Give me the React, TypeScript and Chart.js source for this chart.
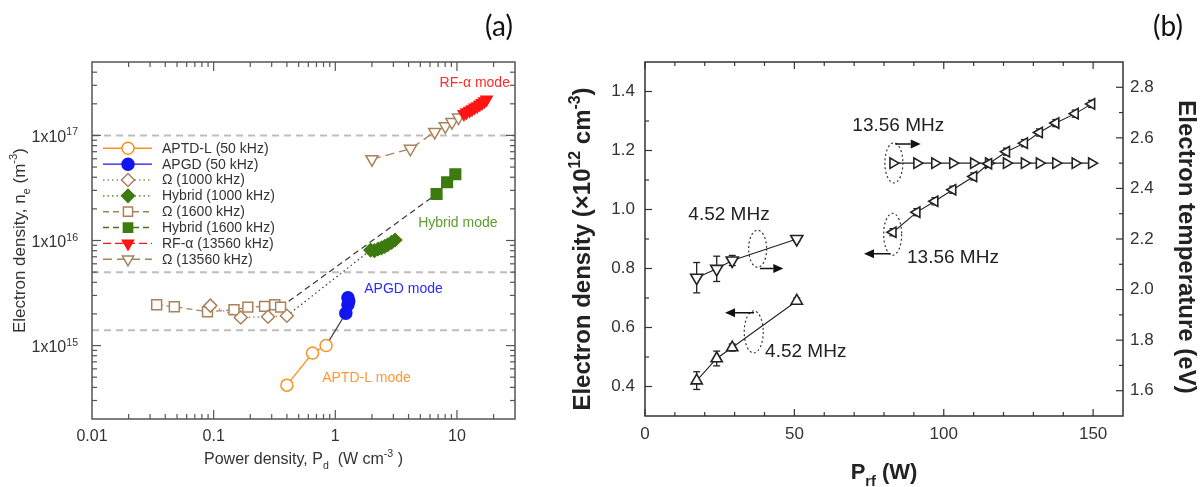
import React, { useEffect, useRef } from "react";
import { Chart, registerables } from "chart.js";
import { drawPoint } from "chart.js/helpers";

Chart.register(...registerables);

// ================= Panel (a) data =================
const aptdX = [0.4, 0.65, 0.84];
const aptdY = [4.2e14, 8.5e14, 1.0e15];
const apgdX = [1.22, 1.27, 1.29, 1.27];
const apgdY = [2.03e15, 2.45e15, 2.65e15, 2.85e15];
const omega1000X = [0.094, 0.167, 0.28, 0.4];
const omega1000Y = [2.4e15, 1.85e15, 1.88e15, 1.92e15];
const hybrid1000X = [1.95, 2.1, 2.25, 2.4, 2.55, 2.7, 2.9, 3.1];
const hybrid1000Y = [8.1e15, 8.0e15, 8.3e15, 8.5e15, 8.8e15, 9.1e15, 9.6e15, 1.01e16];
const omega1600X = [0.034, 0.0475, 0.089, 0.147, 0.191, 0.262, 0.318, 0.355];
const omega1600Y = [2.45e15, 2.34e15, 2.1e15, 2.19e15, 2.32e15, 2.36e15, 2.45e15, 2.32e15];
const hybrid1600X = [6.8, 8.3, 9.7];
const hybrid1600Y = [2.77e16, 3.58e16, 4.27e16];
const rfAlphaX = [11.4, 12.0, 12.7, 13.3, 14.0, 14.7, 15.4, 16.1, 16.8, 17.5];
const rfAlphaY = [1.6e17, 1.66e17, 1.72e17, 1.78e17, 1.84e17, 1.9e17, 1.97e17, 2.04e17, 2.12e17, 2.2e17];
const omega13560X = [2.0, 4.14, 6.56, 8.03, 9.1, 10.3];
const omega13560Y = [5.94e16, 7.45e16, 1.08e17, 1.22e17, 1.34e17, 1.48e17];

const refLevelsA = [1e17, 5e15, 1.4e15];
const xTicksA = [0.01, 0.1, 1, 10];
const xTickLabelsA = ["0.01", "0.1", "1", "10"];
const yTicksA = [1e15, 1e16, 1e17];
const yTickExpA = ["15", "16", "17"];

// ================= Panel (b) data =================
const x452 = [17.3, 24.0, 29.2, 50.8];
const ne452 = [0.42, 0.495, 0.532, 0.69];
const ne452Err = [0.03, 0.025, 0.012, 0.01];
const te452 = [2.047, 2.082, 2.115, 2.2];
const te452Err = [0.06, 0.05, 0.02, 0.01];
const x1356 = [83, 91, 97, 103, 110, 115, 121, 127, 132, 137.5, 144, 149.5];
const ne1356 = [0.923, 0.991, 1.028, 1.067, 1.112, 1.155, 1.196, 1.225, 1.261, 1.293, 1.325, 1.358];
const ne1356Err = [0.012, 0.012, 0.012, 0.012, 0.012, 0.012, 0.012, 0.012, 0.012, 0.012, 0.012, 0.012];
const te1356 = [2.5, 2.5, 2.5, 2.5, 2.5, 2.5, 2.5, 2.5, 2.5, 2.5, 2.5, 2.5];

const xMajorB = [0, 50, 100, 150];
const xMinorB = [10, 20, 30, 40, 60, 70, 80, 90, 110, 120, 130, 140];
const yMajorB = [0.4, 0.6, 0.8, 1.0, 1.2, 1.4];
const yMinorB = [0.5, 0.7, 0.9, 1.1, 1.3];
const y1MajorB = [1.6, 1.8, 2.0, 2.2, 2.4, 2.6, 2.8];
const y1MinorB = [1.7, 1.9, 2.1, 2.3, 2.5, 2.7];

// ================= styles / annotations =================
const FONT = "'Liberation Sans', Arial, Helvetica, sans-serif";
const ORANGE = "#f7931e";
const BLUE = "#1414f0";
const TAN = "#a8825a";
const GREEN = "#3d7a0f";
const RED = "#ff1414";
const INK = "#222";

const SERIES_A = [
  { label: "APTD-L (50 kHz)", xs: aptdX, ys: aptdY, color: ORANGE, fill: "#fff", point: "circle", radius: 6, rot: 0, dash: [] as number[] },
  { label: "APGD (50 kHz)", xs: apgdX, ys: apgdY, color: BLUE, fill: BLUE, point: "circle", radius: 6, rot: 0, dash: [] as number[] },
  { label: "Ω (1000 kHz)", xs: omega1000X, ys: omega1000Y, color: TAN, fill: "#fff", point: "rectRot", radius: 6.5, rot: 0, dash: [1.5, 3] },
  { label: "Hybrid (1000 kHz)", xs: hybrid1000X, ys: hybrid1000Y, color: GREEN, fill: GREEN, point: "rectRot", radius: 6.5, rot: 0, dash: [1.5, 3] },
  { label: "Ω (1600 kHz)", xs: omega1600X, ys: omega1600Y, color: TAN, fill: "#fff", point: "rect", radius: 7, rot: 0, dash: [6, 4] },
  { label: "Hybrid (1600 kHz)", xs: hybrid1600X, ys: hybrid1600Y, color: GREEN, fill: GREEN, point: "rect", radius: 7.5, rot: 0, dash: [6, 4] },
  { label: "RF-α (13560 kHz)", xs: rfAlphaX, ys: rfAlphaY, color: RED, fill: RED, point: "triangle", radius: 6.5, rot: 180, dash: [8, 4] },
  { label: "Ω (13560 kHz)", xs: omega13560X, ys: omega13560Y, color: TAN, fill: "#fff", point: "triangle", radius: 7, rot: 180, dash: [9, 5] },
];

const MODE_LABELS_A = [
  { t: "RF-α mode", x: 7.2, y: 3.16e17, color: "#ff2a2a" },
  { t: "Hybrid mode", x: 4.8, y: 1.45e16, color: "#5b9e2d" },
  { t: "APGD mode", x: 1.73, y: 3.43e15, color: "#2b2bff" },
  { t: "APTD-L mode", x: 0.78, y: 4.9e14, color: "#ff9933" },
];

const ELLIPSES_B = [
  { x: 37.7, y: 0.867, rx: 9, ry: 18.5 },
  { x: 36.4, y: 0.585, rx: 9.5, ry: 21 },
  { x: 83.3, y: 1.158, rx: 9, ry: 20 },
  { x: 82.9, y: 0.916, rx: 9, ry: 21 },
];
const ARROWS_B = [
  { x1: 38.5, x2: 46.3, y: 0.8 },
  { x1: 36.5, x2: 26.8, y: 0.65 },
  { x1: 83.8, x2: 92.3, y: 1.222 },
  { x1: 82.2, x2: 73.3, y: 0.85 },
];
const LABELS_B = [
  { t: "4.52 MHz", x: 14.5, y: 0.981 },
  { t: "4.52 MHz", x: 40.2, y: 0.519 },
  { t: "13.56 MHz", x: 69.4, y: 1.283 },
  { t: "13.56 MHz", x: 87.7, y: 0.838 },
];

type Seg = { t: string; k?: "sub" | "sup" };

function drawRich(ctx: any, segs: Seg[], x: number, y: number, o: any) {
  const weight = o.weight || "normal";
  const small = o.size * 0.66;
  ctx.save();
  ctx.translate(x, y);
  if (o.rot) ctx.rotate(o.rot);
  ctx.fillStyle = o.color || INK;
  ctx.textBaseline = "alphabetic";
  ctx.textAlign = "left";
  const fontOf = (s: Seg) => `${weight} ${s.k ? small : o.size}px ${FONT}`;
  let total = 0;
  const widths = segs.map((s) => {
    ctx.font = fontOf(s);
    const w = ctx.measureText(s.t).width;
    total += w;
    return w;
  });
  let cx = o.align === "right" ? -total : o.align === "center" ? -total / 2 : 0;
  const base = o.size * 0.36;
  segs.forEach((s, i) => {
    ctx.font = fontOf(s);
    const dy = s.k === "sup" ? -o.size * 0.42 : s.k === "sub" ? o.size * 0.3 : 0;
    ctx.fillText(s.t, cx, base + dy);
    cx += widths[i];
  });
  ctx.restore();
}

function seg(ctx: any, x1: number, y1: number, x2: number, y2: number) {
  ctx.beginPath();
  ctx.moveTo(x1, y1);
  ctx.lineTo(x2, y2);
  ctx.stroke();
}

function drawArrow(ctx: any, x1: number, y1: number, x2: number, y2: number) {
  const ang = Math.atan2(y2 - y1, x2 - x1);
  const hl = 10, hw = 4.5;
  const c = Math.cos(ang), s = Math.sin(ang);
  seg(ctx, x1, y1, x2 - c * hl, y2 - s * hl);
  ctx.beginPath();
  ctx.moveTo(x2, y2);
  ctx.lineTo(x2 - c * hl - s * hw, y2 - s * hl + c * hw);
  ctx.lineTo(x2 - c * hl + s * hw, y2 - s * hl - c * hw);
  ctx.closePath();
  ctx.fill();
}

function PanelA() {
  const ref = useRef<HTMLCanvasElement>(null);
  useEffect(() => {
    const mk = (xs: number[], ys: number[]) => xs.map((x, i) => ({ x, y: ys[i] }));
    const conn = (xa: number[], ya: number[], xb: number[], yb: number[]) => [
      { x: xa[xa.length - 1], y: ya[ya.length - 1] },
      { x: xb[0], y: yb[0] },
    ];
    const datasets: any[] = SERIES_A.map((s) => ({
      label: s.label,
      data: mk(s.xs, s.ys),
      showLine: true,
      borderColor: s.color,
      borderWidth: 1.3,
      borderDash: s.dash,
      pointStyle: s.point,
      pointRadius: s.radius,
      pointRotation: s.rot,
      pointBackgroundColor: s.fill,
      pointBorderColor: s.color,
      pointBorderWidth: 1.5,
    }));
    const connStyle = { showLine: true, borderColor: "#3a3a3a", borderWidth: 1.2, pointRadius: 0 };
    datasets.push({ ...connStyle, data: conn(aptdX, aptdY, apgdX, apgdY), borderDash: [] });
    datasets.push({ ...connStyle, data: conn(omega1000X, omega1000Y, hybrid1000X, hybrid1000Y), borderDash: [1.5, 3] });
    datasets.push({ ...connStyle, data: conn(omega1600X, omega1600Y, hybrid1600X, hybrid1600Y), borderDash: [6, 4] });

    const decor = {
      id: "decorA",
      beforeDatasetsDraw(chart: any) {
        const { ctx, chartArea: a, scales } = chart;
        ctx.save();
        ctx.strokeStyle = "#bdbdbd";
        ctx.lineWidth = 2;
        ctx.setLineDash([7, 5]);
        refLevelsA.forEach((v) => {
          const py = scales.y.getPixelForValue(v);
          seg(ctx, a.left, py, a.right, py);
        });
        ctx.restore();
      },
      afterDraw(chart: any) {
        const { ctx, chartArea: a, scales } = chart;
        const xs = scales.x, ys = scales.y;
        ctx.save();
        ctx.setLineDash([]);
        ctx.strokeStyle = "#555";
        ctx.lineWidth = 1.5;
        ctx.strokeRect(a.left, a.top, a.right - a.left, a.bottom - a.top);
        ctx.lineWidth = 1.2;
        for (let d = -2; d <= 1; d++) {
          for (let m = 1; m <= 9; m++) {
            const v = m * Math.pow(10, d);
            if (v <= xs.min * 1.001 || v >= xs.max * 0.999) continue;
            const p = xs.getPixelForValue(v);
            const L = m === 1 ? 9 : 5;
            seg(ctx, p, a.bottom, p, a.bottom - L);
            seg(ctx, p, a.top, p, a.top + L);
          }
        }
        for (let d = 14; d <= 17; d++) {
          for (let m = 1; m <= 9; m++) {
            const v = m * Math.pow(10, d);
            if (v <= ys.min * 1.001 || v >= ys.max * 0.999) continue;
            const p = ys.getPixelForValue(v);
            const L = m === 1 ? 9 : 5;
            seg(ctx, a.left, p, a.left + L, p);
            seg(ctx, a.right, p, a.right - L, p);
          }
        }
        // tick labels
        ctx.fillStyle = "#333";
        ctx.font = `16px ${FONT}`;
        ctx.textAlign = "center";
        ctx.textBaseline = "middle";
        xTicksA.forEach((v, i) => {
          ctx.fillText(xTickLabelsA[i], xs.getPixelForValue(v), a.bottom + 18);
        });
        yTicksA.forEach((v, i) => {
          drawRich(ctx, [{ t: "1x10" }, { t: yTickExpA[i], k: "sup" }], a.left - 14, ys.getPixelForValue(v) + 1, {
            size: 16, align: "right", color: "#333",
          });
        });
        // axis titles
        drawRich(ctx, [{ t: "Power density, P" }, { t: "d", k: "sub" }, { t: "  (W cm" }, { t: "-3", k: "sup" }, { t: " )" }],
          (a.left + a.right) / 2, a.bottom + 39, { size: 16, align: "center", color: "#333" });
        drawRich(ctx, [{ t: "Electron density, n" }, { t: "e", k: "sub" }, { t: " (m" }, { t: "-3", k: "sup" }, { t: ")" }],
          18.5, (a.top + a.bottom) / 2, { size: 17, align: "center", color: "#333", rot: -Math.PI / 2 });
        // mode labels
        ctx.font = `14px ${FONT}`;
        ctx.textAlign = "left";
        ctx.textBaseline = "middle";
        MODE_LABELS_A.forEach((m) => {
          ctx.fillStyle = m.color;
          ctx.fillText(m.t, xs.getPixelForValue(m.x), ys.getPixelForValue(m.y));
        });
        // legend
        SERIES_A.forEach((s, i) => {
          const yy = 148.3 + i * 15.85;
          ctx.strokeStyle = s.color;
          ctx.lineWidth = 1.4;
          ctx.setLineDash(s.dash);
          seg(ctx, a.left + 11, yy, a.left + 60, yy);
          ctx.setLineDash([]);
          ctx.fillStyle = s.fill;
          ctx.lineWidth = 1.5;
          drawPoint(ctx, { pointStyle: s.point, rotation: s.rot, radius: Math.min(s.radius, 6.5), borderWidth: 1.5 } as any, a.left + 36, yy);
          ctx.fillStyle = "#333";
          ctx.font = `14px ${FONT}`;
          ctx.textAlign = "left";
          ctx.textBaseline = "middle";
          ctx.fillText(s.label, a.left + 70, yy + 0.5);
        });
        // panel tag
        ctx.fillStyle = "#111";
        ctx.font = `28px Lato, 'Open Sans', sans-serif`;
        ctx.textAlign = "center";
        ctx.textBaseline = "middle";
        ctx.fillText("(a)", 499, 27);
        ctx.restore();
      },
    };

    const chart = new Chart(ref.current as HTMLCanvasElement, {
      type: "scatter",
      data: { datasets },
      options: {
        responsive: false,
        animation: false,
        devicePixelRatio: 1,
        events: [],
        layout: { padding: { left: 0, top: 62, right: 45, bottom: 0 } },
        plugins: { legend: { display: false }, tooltip: { enabled: false }, title: { display: false } },
        scales: {
          x: {
            type: "logarithmic", min: 0.01, max: 30,
            ticks: { display: false }, grid: { display: false, drawTicks: false }, border: { display: false },
            afterFit: (s: any) => { s.height = 68; },
          },
          y: {
            type: "logarithmic", min: 2e14, max: 5e17,
            ticks: { display: false }, grid: { display: false, drawTicks: false }, border: { display: false },
            afterFit: (s: any) => { s.width = 92; },
          },
        },
      } as any,
      plugins: [decor],
    });
    return () => chart.destroy();
  }, []);
  return <canvas ref={ref} width={560} height={487} style={{ position: "absolute", left: 0, top: 0 }} />;
}

function PanelB() {
  const ref = useRef<HTMLCanvasElement>(null);
  useEffect(() => {
    const mk = (xs: number[], ys: number[]) => xs.map((x, i) => ({ x, y: ys[i] }));
    const base = {
      showLine: true, borderColor: INK, borderWidth: 1.1, pointBackgroundColor: "#fff",
      pointBorderColor: INK, pointBorderWidth: 1.6,
    };
    const datasets: any[] = [
      { ...base, data: mk(x452, ne452), yAxisID: "y", pointStyle: "triangle", pointRotation: 0, pointRadius: 6.5 },
      { ...base, data: mk(x452, te452), yAxisID: "y1", pointStyle: "triangle", pointRotation: 180, pointRadius: 7 },
      { ...base, data: mk(x1356, ne1356), yAxisID: "y", pointStyle: "triangle", pointRotation: 270, pointRadius: 6 },
      { ...base, data: mk(x1356, te1356), yAxisID: "y1", pointStyle: "triangle", pointRotation: 90, pointRadius: 6 },
    ];
    const errSets = [
      { xs: x452, ys: ne452, es: ne452Err, axis: "y" },
      { xs: x452, ys: te452, es: te452Err, axis: "y1" },
      { xs: x1356, ys: ne1356, es: ne1356Err, axis: "y" },
    ];
    const decor = {
      id: "decorB",
      beforeDatasetsDraw(chart: any) {
        const { ctx, scales } = chart;
        ctx.save();
        ctx.strokeStyle = INK;
        ctx.lineWidth = 1.3;
        errSets.forEach((e) => {
          const sy = scales[e.axis];
          e.xs.forEach((x, i) => {
            const px = scales.x.getPixelForValue(x);
            const p1 = sy.getPixelForValue(e.ys[i] + e.es[i]);
            const p2 = sy.getPixelForValue(e.ys[i] - e.es[i]);
            seg(ctx, px, p1, px, p2);
            seg(ctx, px - 3.5, p1, px + 3.5, p1);
            seg(ctx, px - 3.5, p2, px + 3.5, p2);
          });
        });
        ctx.restore();
      },
      afterDraw(chart: any) {
        const { ctx, chartArea: a, scales } = chart;
        const xs = scales.x, ys = scales.y, y1 = scales.y1;
        ctx.save();
        ctx.setLineDash([]);
        ctx.strokeStyle = "#333";
        ctx.lineWidth = 1.5;
        ctx.strokeRect(a.left, a.top, a.right - a.left, a.bottom - a.top);
        ctx.lineWidth = 1.2;
        const xt = (v: number, L: number) => {
          const p = xs.getPixelForValue(v);
          seg(ctx, p, a.bottom, p, a.bottom - L);
          seg(ctx, p, a.top, p, a.top + L);
        };
        xMajorB.forEach((v) => xt(v, 7));
        xMinorB.forEach((v) => xt(v, 4));
        yMajorB.forEach((v) => { const p = ys.getPixelForValue(v); seg(ctx, a.left, p, a.left + 7, p); });
        yMinorB.forEach((v) => { const p = ys.getPixelForValue(v); seg(ctx, a.left, p, a.left + 4, p); });
        y1MajorB.forEach((v) => { const p = y1.getPixelForValue(v); seg(ctx, a.right, p, a.right - 7, p); });
        y1MinorB.forEach((v) => { const p = y1.getPixelForValue(v); seg(ctx, a.right, p, a.right - 4, p); });
        // tick labels
        ctx.fillStyle = "#333";
        ctx.font = `17px ${FONT}`;
        ctx.textBaseline = "middle";
        ctx.textAlign = "center";
        xMajorB.forEach((v) => ctx.fillText(String(v), xs.getPixelForValue(v), a.bottom + 18));
        ctx.textAlign = "right";
        yMajorB.forEach((v) => ctx.fillText(v.toFixed(1), a.left - 10, ys.getPixelForValue(v)));
        ctx.textAlign = "left";
        y1MajorB.forEach((v) => ctx.fillText(v.toFixed(1), a.right + 7, y1.getPixelForValue(v)));
        // titles
        drawRich(ctx, [{ t: "Electron density (×10" }, { t: "12", k: "sup" }, { t: " cm" }, { t: "-3", k: "sup" }, { t: ")" }],
          21.7, 249, { size: 24, weight: "bold", align: "center", color: "#222", rot: -Math.PI / 2 });
        drawRich(ctx, [{ t: "Electron temperature (eV)" }],
          628, 247, { size: 24, weight: "bold", align: "center", color: "#222", rot: Math.PI / 2 });
        drawRich(ctx, [{ t: "P" }, { t: "rf", k: "sub" }, { t: " (W)" }],
          (a.left + a.right) / 2, 471, { size: 22, weight: "bold", align: "center", color: "#222" });
        // annotations
        ctx.strokeStyle = "#333";
        ctx.lineWidth = 1.2;
        ctx.setLineDash([2, 2.5]);
        ELLIPSES_B.forEach((e) => {
          ctx.beginPath();
          ctx.ellipse(xs.getPixelForValue(e.x), ys.getPixelForValue(e.y), e.rx, e.ry, 0, 0, Math.PI * 2);
          ctx.stroke();
        });
        ctx.setLineDash([]);
        ctx.strokeStyle = "#111";
        ctx.fillStyle = "#111";
        ctx.lineWidth = 1.5;
        ARROWS_B.forEach((r) => {
          const py = ys.getPixelForValue(r.y);
          drawArrow(ctx, xs.getPixelForValue(r.x1), py, xs.getPixelForValue(r.x2), py);
        });
        ctx.fillStyle = "#222";
        ctx.font = `19px ${FONT}`;
        ctx.textAlign = "left";
        ctx.textBaseline = "middle";
        LABELS_B.forEach((l) => ctx.fillText(l.t, xs.getPixelForValue(l.x), ys.getPixelForValue(l.y)));
        // panel tag
        ctx.fillStyle = "#111";
        ctx.font = `28px Lato, 'Open Sans', sans-serif`;
        ctx.textAlign = "center";
        ctx.fillText("(b)", 608, 27);
        ctx.restore();
      },
    };
    const chart = new Chart(ref.current as HTMLCanvasElement, {
      type: "scatter",
      data: { datasets },
      options: {
        responsive: false,
        animation: false,
        devicePixelRatio: 1,
        events: [],
        layout: { padding: { left: 0, top: 62, right: 0, bottom: 0 } },
        plugins: { legend: { display: false }, tooltip: { enabled: false }, title: { display: false } },
        scales: {
          x: {
            type: "linear", min: 0, max: 160,
            ticks: { display: false }, grid: { display: false, drawTicks: false }, border: { display: false },
            afterFit: (s: any) => { s.height = 71; },
          },
          y: {
            type: "linear", position: "left", min: 0.3, max: 1.5,
            ticks: { display: false }, grid: { display: false, drawTicks: false }, border: { display: false },
            afterFit: (s: any) => { s.width = 85; },
          },
          y1: {
            type: "linear", position: "right", min: 1.5, max: 2.9,
            ticks: { display: false }, grid: { display: false, drawTicks: false }, border: { display: false },
            afterFit: (s: any) => { s.width = 78; },
          },
        },
      } as any,
      plugins: [decor],
    });
    return () => chart.destroy();
  }, []);
  return <canvas ref={ref} width={641} height={487} style={{ position: "absolute", left: 560, top: 0 }} />;
}

export default function App() {
  return (
    <div style={{ position: "fixed", left: 0, top: 0, width: 1201, height: 487, background: "#fff", overflow: "hidden" }}>
      <PanelA />
      <PanelB />
    </div>
  );
}
